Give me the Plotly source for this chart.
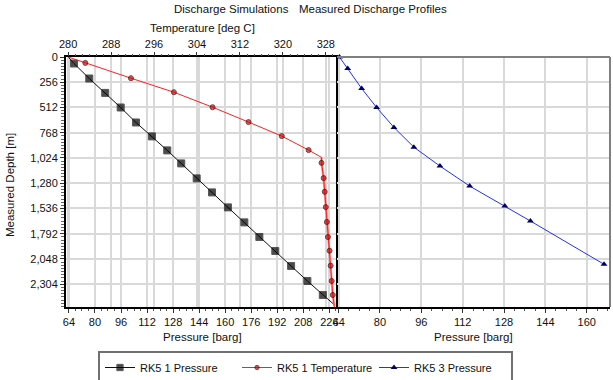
import plotly.graph_objects as go

# ---- data ----
sim_depth = [0, 66, 218, 364, 512, 664, 805, 947, 1079, 1231, 1373, 1525, 1677, 1825,
             1967, 2119, 2271, 2413, 2504]
sim_pressure = [63.6, 67.1, 76.5, 86.3, 95.8, 105.2, 115.0, 124.4, 133.0, 142.5, 151.9,
                161.7, 171.8, 181.0, 190.8, 200.5, 210.5, 220.0, 226.5]

temp_depth = [0, 60, 215, 357, 509, 660, 802, 944, 1018, 1073, 1228, 1367, 1522, 1673,
              1825, 1964, 2116, 2271, 2413, 2532]
temp_values = [280.0, 283.2, 291.7, 299.7, 306.9, 313.6, 319.8, 324.8, 327.2, 327.2,
               327.6, 327.8, 328.0, 328.2, 328.4, 328.7, 328.9, 329.1, 329.3, 329.6]
temp_kink_index = 8

meas_depth = [0, 116, 319, 512, 714, 914, 1106, 1309, 1511, 1663, 2102]
meas_pressure = [64.3, 67.5, 72.9, 78.7, 85.4, 93.1, 103.2, 114.7, 128.3, 138.2, 166.7]

depth_ticks = [0, 256, 512, 768, 1024, 1280, 1536, 1792, 2048, 2304]
pressure_ticks = [64, 80, 96, 112, 128, 144, 160, 176, 192, 208, 224]
temp_ticks = [280, 288, 296, 304, 312, 320, 328]

series_names = ["RK5 1 Pressure", "RK5 1 Temperature", "RK5 3 Pressure"]

# ---- styling ----
FONT = "Liberation Sans"
GRID = "#d9d9d9"
W, H = 613, 380
L, R, T, B = 66, 3, 57, 73
PW, PH = W - L - R, H - T - B

sim_sizes = [0] + [7] * (len(sim_depth) - 2) + [0]
temp_sizes = [5 if (0 < i < len(temp_depth) - 1 and i != temp_kink_index) else 0
              for i in range(len(temp_depth))]

fig = go.Figure()

# pale thick red overlay on the lower temperature section
fig.add_trace(go.Scatter(
    x=temp_values[temp_kink_index:], y=temp_depth[temp_kink_index:],
    xaxis="x2", yaxis="y", mode="lines",
    line=dict(color="rgba(255,90,90,0.6)", width=2.5),
    showlegend=False, hoverinfo="skip"))

fig.add_trace(go.Scatter(
    x=sim_pressure, y=sim_depth, xaxis="x", yaxis="y",
    mode="lines+markers", name=series_names[0],
    line=dict(color="#111111", width=1),
    marker=dict(symbol="square", size=sim_sizes, color="black"),
    cliponaxis=False))

fig.add_trace(go.Scatter(
    x=temp_values, y=temp_depth, xaxis="x2", yaxis="y",
    mode="lines+markers", name=series_names[1],
    line=dict(color="#ff2020", width=1),
    marker=dict(symbol="circle", size=temp_sizes, color="#e00000",
                line=dict(color="#300000", width=1)),
    cliponaxis=False))

fig.add_trace(go.Scatter(
    x=meas_pressure, y=meas_depth, xaxis="x3", yaxis="y2",
    mode="lines+markers", name=series_names[2],
    line=dict(color="#2030ff", width=1),
    marker=dict(symbol="triangle-up", size=6, color="#000060"),
    cliponaxis=False))

tickfont = dict(family=FONT, size=11, color="#111")
titlefont = dict(family=FONT, size=11.5, color="#111")

split = 270 / PW


def px_x(px):
    return (px - L) / PW


def px_y(py):
    return 1 - (py - T) / PH


common = dict(ticks="outside", ticklen=4, tickcolor="#333", showgrid=True,
              gridcolor=GRID, gridwidth=2, zeroline=False, automargin=False,
              tickfont=tickfont)

fig.update_layout(
    width=W, height=H,
    margin=dict(l=L, r=R, t=T, b=B, autoexpand=False),
    paper_bgcolor="white", plot_bgcolor="white",
    font=dict(family=FONT, size=11, color="#111"),
    xaxis=dict(domain=[0, split], anchor="y", range=[62.2, 228.1],
               tickvals=pressure_ticks, showline=True, linecolor="black",
               linewidth=2, mirror=True,
               minor=dict(dtick=4, ticks="outside", ticklen=2, tickcolor="#555",
                          showgrid=False), **common),
    xaxis2=dict(overlaying="x", side="top", anchor="y", range=[279.6, 329.9],
                tickvals=temp_ticks, showline=False,
                minor=dict(dtick=4 / 3, ticks="outside", ticklen=2, tickcolor="#555",
                           showgrid=False), **common),
    xaxis3=dict(domain=[split + 0.002, 1], anchor="y2", range=[63.4, 169.0],
                tickvals=pressure_ticks, showline=True, linecolor="black",
                linewidth=2, mirror=False,
                minor=dict(dtick=4, ticks="outside", ticklen=2, tickcolor="#555",
                           showgrid=False), **common),
    yaxis=dict(domain=[0, 1], anchor="x", range=[2535, 0],
               tickvals=depth_ticks, tickformat=",d", showline=True,
               linecolor="black", linewidth=2, mirror=True,
               minor=dict(dtick=32, ticks="outside", ticklen=3, tickcolor="#666",
                          showgrid=False), **common),
    yaxis2=dict(domain=[0, 1], anchor="x3", matches="y", range=[2535, 0],
                tickvals=depth_ticks, showticklabels=False, ticks="",
                showgrid=True, gridcolor=GRID, gridwidth=2, zeroline=False,
                showline=False, automargin=False),
    legend=dict(orientation="h", x=px_x(98), xanchor="left", y=px_y(351), yanchor="top",
                bordercolor="#707070", borderwidth=2, bgcolor="white",
                font=dict(family=FONT, size=11, color="#111"),
                entrywidth=92, entrywidthmode="pixels", itemwidth=30,
                tracegroupgap=0),
    shapes=[
        dict(type="line", xref="x3 domain", yref="y2 domain", x0=0, x1=1, y0=1, y1=1,
             line=dict(color="#808080", width=2)),
        dict(type="line", xref="x3 domain", yref="y2 domain", x0=1, x1=1, y0=0, y1=1,
             line=dict(color="#808080", width=2)),
    ],
    annotations=[
        dict(text="Discharge Simulations", xref="paper", yref="paper",
             x=px_x(231), y=px_y(9), xanchor="center", yanchor="middle",
             showarrow=False, font=dict(family=FONT, size=11.5, color="#111")),
        dict(text="Measured Discharge Profiles", xref="paper", yref="paper",
             x=px_x(373), y=px_y(9), xanchor="center", yanchor="middle",
             showarrow=False, font=dict(family=FONT, size=11.5, color="#111")),
        dict(text="Temperature [deg C]", xref="paper", yref="paper",
             x=px_x(202), y=px_y(28), xanchor="center", yanchor="middle",
             showarrow=False, font=titlefont),
        dict(text="Pressure [barg]", xref="paper", yref="paper",
             x=px_x(202), y=px_y(337), xanchor="center", yanchor="middle",
             showarrow=False, font=titlefont),
        dict(text="Pressure [barg]", xref="paper", yref="paper",
             x=px_x(473), y=px_y(337), xanchor="center", yanchor="middle",
             showarrow=False, font=titlefont),
        dict(text="Measured Depth [m]", xref="paper", yref="paper",
             x=px_x(10), y=px_y(185), xanchor="center", yanchor="middle",
             textangle=-90, showarrow=False, font=titlefont),
    ],
)

fig.write_html(
    "out.html",
    config={"displayModeBar": False},
    post_script="document.body.style.margin='0';document.body.style.padding='0';",
)
